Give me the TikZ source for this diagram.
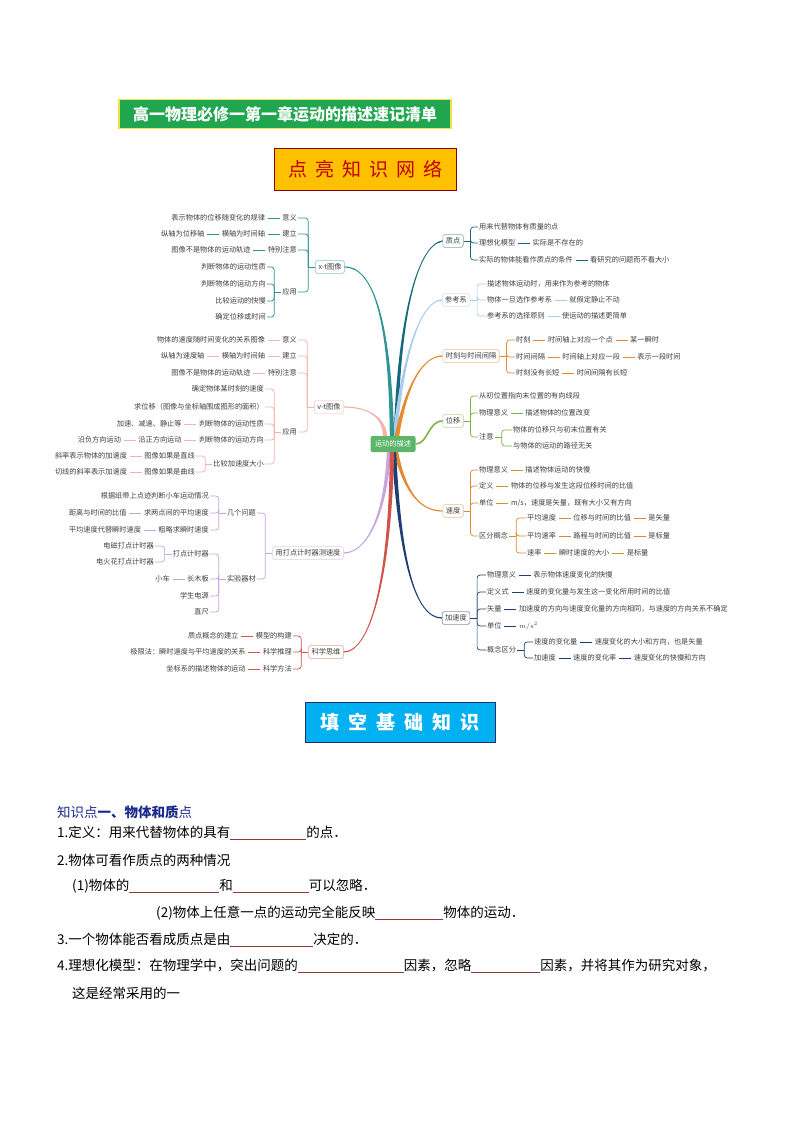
\documentclass[tikz,border=0pt]{standalone}
\usepackage{fontspec}
\setmainfont{Noto Sans CJK SC}
\usetikzlibrary{positioning,calc}
\definecolor{cXT}{HTML}{2E9494}
\definecolor{cVT}{HTML}{F2B2AE}
\definecolor{cDD}{HTML}{C7A4DA}
\definecolor{cKX}{HTML}{D0544A}
\definecolor{cZD}{HTML}{17687A}
\definecolor{cCK}{HTML}{A8CBEE}
\definecolor{cSK}{HTML}{E8892B}
\definecolor{cWY}{HTML}{7DB544}
\definecolor{cSD}{HTML}{DE8A33}
\definecolor{cJSD}{HTML}{1F3F74}
\definecolor{cCtr}{HTML}{5DB56B}
\definecolor{tgray}{HTML}{404040}
\definecolor{titleg}{HTML}{1FA64E}
\definecolor{titley}{HTML}{F0E04A}
\definecolor{orangebox}{HTML}{FFC000}
\definecolor{redtxt}{HTML}{C00000}
\definecolor{bluebox}{HTML}{00B0F0}
\definecolor{navyb}{HTML}{1F2F6F}
\definecolor{kdblue}{HTML}{1C2A8A}
\definecolor{blankc}{HTML}{8B3A3A}
\newcommand\brR[3]{\draw[#1,line width=0.7pt,rounded corners=3pt] ($(#2.east)+(7,0)$) |- (#3.west);\draw[#1,line width=0.7pt] (#2.east) -- ($(#2.east)+(7,0)$);}
\newcommand\brL[3]{\draw[#1,line width=0.7pt,rounded corners=3pt] ($(#2.west)+(-7,0)$) |- (#3.east);\draw[#1,line width=0.7pt] (#2.west) -- ($(#2.west)+(-7,0)$);}
\newcommand\mylnk[3]{\draw[#1,line width=0.7pt,shorten <=1.5pt,shorten >=1.5pt] (#2) -- (#3);}
\newcommand\taper[7]{\fill[#1] ($#2+(-2.2,0)$) .. controls ($#3+(-1.2,0)$) and ($#4+(0,#6)$) .. ($#5+(0,#6)$) -- ($#5+(0,#7)$) .. controls ($#4+(0,#7)$) and ($#3+(1.2,0)$) .. ($#2+(2.2,0)$) -- cycle;}
\newcommand\myblank[1]{\textcolor{blankc}{\rule[-2.5pt]{#1}{0.7pt}}}
\begin{document}
\begin{tikzpicture}[x=1pt,y=-1pt,
  mt/.style={font=\fontsize{7.2}{8}\selectfont, text=tgray, inner sep=1pt},
  mbox/.style={mt, draw=#1!55, fill=white, rounded corners=1.5pt, inner sep=3pt, line width=0.6pt},
  btxt/.style={font=\fontsize{13.5}{15}\selectfont, anchor=west, inner sep=0pt, text=black}]
\useasboundingbox (0,0) rectangle (794,1123);
\fill[white] (0,0) rectangle (794,1123);

% headers
\node[draw=titley, line width=1.6pt, fill=titleg, text=white, font=\fontsize{16}{18}\selectfont\bfseries, minimum width=332pt, minimum height=29pt, inner sep=0pt] (title) at (285,114) {高一物理必修一第一章运动的描述速记清单};
\node[draw=redtxt!70!black, line width=0.8pt, fill=orangebox, text=redtxt, font=\fontsize{19}{21}\selectfont, minimum width=182pt, minimum height=42pt, inner sep=0pt] (hd1) at (365.5,169.5) {点\hspace{8pt}亮\hspace{8pt}知\hspace{8pt}识\hspace{8pt}网\hspace{8pt}络};
\node[draw=navyb, line width=0.8pt, fill=bluebox, text=white, font=\fontsize{19}{21}\selectfont\bfseries, minimum width=190pt, minimum height=40pt, inner sep=0pt] (hd2) at (400,722) {填\hspace{9pt}空\hspace{9pt}基\hspace{9pt}础\hspace{9pt}知\hspace{9pt}识};

% centre
\node[fill=cCtr, text=white, rounded corners=2pt, font=\fontsize{7.2}{8}\selectfont, minimum width=45pt, minimum height=16pt, inner sep=1pt] (ctr) at (393,444) {运动的描述};

% ---------- right: 质点
\node[mbox=cZD] (zd) at (453,241) {质点};
\node[mt,anchor=west] (zd1) at (478,227) {用来代替物体有质量的点};
\node[mt,anchor=west] (zd2) at (478,243) {理想化模型};
\node[mt,right=15pt of zd2] (zd2a) {实际是不存在的};
\node[mt,anchor=west] (zd3) at (478,260) {实际的物体能看作质点的条件};
\node[mt,right=15pt of zd3] (zd3a) {看研究的问题而不看大小};
\brR{cZD}{zd}{zd1}\brR{cZD}{zd}{zd2}\brR{cZD}{zd}{zd3}
\mylnk{cZD}{zd2}{zd2a}\mylnk{cZD}{zd3}{zd3a}

% 参考系
\node[mbox=cCK] (ckx) at (456,300) {参考系};
\node[mt,anchor=west] (ck1) at (486,284) {描述物体运动时，用来作为参考的物体};
\node[mt,anchor=west] (ck2) at (486,300) {物体一旦选作参考系};
\node[mt,right=15pt of ck2] (ck2a) {就假定静止不动};
\node[mt,anchor=west] (ck3) at (486,316) {参考系的选择原则};
\node[mt,right=15pt of ck3] (ck3a) {使运动的描述更简单};
\brR{cCK}{ckx}{ck1}\brR{cCK}{ckx}{ck2}\brR{cCK}{ckx}{ck3}
\mylnk{cCK}{ck2}{ck2a}\mylnk{cCK}{ck3}{ck3a}

% 时刻与时间间隔
\node[mbox=cSK] (sk) at (471,356) {时刻与时间间隔};
\node[mt,anchor=west] (sk1) at (515,340) {时刻};
\node[mt,right=15pt of sk1] (sk1a) {时间轴上对应一个点};
\node[mt,right=15pt of sk1a] (sk1b) {某一瞬时};
\node[mt,anchor=west] (sk2) at (515,357) {时间间隔};
\node[mt,right=15pt of sk2] (sk2a) {时间轴上对应一段};
\node[mt,right=15pt of sk2a] (sk2b) {表示一段时间};
\node[mt,anchor=west] (sk3) at (515,373) {时刻没有长短};
\node[mt,right=15pt of sk3] (sk3a) {时间间隔有长短};
\brR{cSK}{sk}{sk1}\brR{cSK}{sk}{sk2}\brR{cSK}{sk}{sk3}
\mylnk{cSK}{sk1}{sk1a}\mylnk{cSK}{sk1a}{sk1b}\mylnk{cSK}{sk2}{sk2a}\mylnk{cSK}{sk2a}{sk2b}\mylnk{cSK}{sk3}{sk3a}

% 位移
\node[mbox=cWY] (wy) at (453,421) {位移};
\node[mt,anchor=west] (wy1) at (478,396) {从初位置指向末位置的有向线段};
\node[mt,anchor=west] (wy2) at (478,413) {物理意义};
\node[mt,right=15pt of wy2] (wy2a) {描述物体的位置改变};
\node[mt,anchor=west] (wy3) at (478,437) {注意};
\node[mt,anchor=west] (wy3a) at (512,430) {物体的位移只与初末位置有关};
\node[mt,anchor=west] (wy3b) at (512,446) {与物体的运动的路径无关};
\brR{cWY}{wy}{wy1}\brR{cWY}{wy}{wy2}\brR{cWY}{wy}{wy3}
\brR{cWY}{wy3}{wy3a}\brR{cWY}{wy3}{wy3b}
\mylnk{cWY}{wy2}{wy2a}

% 速度
\node[mbox=cSD] (sd) at (453,511) {速度};
\node[mt,anchor=west] (sd1) at (478,470) {物理意义};
\node[mt,right=15pt of sd1] (sd1a) {描述物体运动的快慢};
\node[mt,anchor=west] (sd2) at (478,486) {定义};
\node[mt,right=15pt of sd2] (sd2a) {物体的位移与发生这段位移时间的比值};
\node[mt,anchor=west] (sd3) at (478,503) {单位};
\node[mt,right=15pt of sd3] (sd3a) {m/s，速度是矢量，既有大小又有方向};
\node[mt,anchor=west] (sd4) at (478,536) {区分概念};
\node[mt,anchor=west] (sd4a) at (526,518) {平均速度};
\node[mt,right=15pt of sd4a] (sd4a1) {位移与时间的比值};
\node[mt,right=15pt of sd4a1] (sd4a2) {是矢量};
\node[mt,anchor=west] (sd4b) at (526,536) {平均速率};
\node[mt,right=15pt of sd4b] (sd4b1) {路程与时间的比值};
\node[mt,right=15pt of sd4b1] (sd4b2) {是标量};
\node[mt,anchor=west] (sd4c) at (526,553) {速率};
\node[mt,right=15pt of sd4c] (sd4c1) {瞬时速度的大小};
\node[mt,right=15pt of sd4c1] (sd4c2) {是标量};
\brR{cSD}{sd}{sd1}\brR{cSD}{sd}{sd2}\brR{cSD}{sd}{sd3}\brR{cSD}{sd}{sd4}
\brR{cSD}{sd4}{sd4a}\brR{cSD}{sd4}{sd4b}\brR{cSD}{sd4}{sd4c}
\mylnk{cSD}{sd1}{sd1a}\mylnk{cSD}{sd2}{sd2a}\mylnk{cSD}{sd3}{sd3a}
\mylnk{cSD}{sd4a}{sd4a1}\mylnk{cSD}{sd4a1}{sd4a2}
\mylnk{cSD}{sd4b}{sd4b1}\mylnk{cSD}{sd4b1}{sd4b2}
\mylnk{cSD}{sd4c}{sd4c1}\mylnk{cSD}{sd4c1}{sd4c2}

% 加速度
\node[mbox=cJSD] (jsd) at (456,618) {加速度};
\node[mt,anchor=west] (j1) at (486,575) {物理意义};
\node[mt,right=15pt of j1] (j1a) {表示物体速度变化的快慢};
\node[mt,anchor=west] (j2) at (486,592) {定义式};
\node[mt,right=15pt of j2] (j2a) {速度的变化量与发生这一变化所用时间的比值};
\node[mt,anchor=west] (j3) at (486,609) {矢量};
\node[mt,right=15pt of j3] (j3a) {加速度的方向与速度变化量的方向相同，与速度的方向关系不确定};
\node[mt,anchor=west] (j4) at (486,626) {单位};
\node[mt,right=15pt of j4] (j4a) {$m/s^2$};
\node[mt,anchor=west] (j5) at (486,650) {概念区分};
\node[mt,anchor=west] (j5a) at (533,642) {速度的变化量};
\node[mt,right=15pt of j5a] (j5a1) {速度变化的大小和方向，也是矢量};
\node[mt,anchor=west] (j5b) at (533,658) {加速度};
\node[mt,right=15pt of j5b] (j5b1) {速度的变化率};
\node[mt,right=15pt of j5b1] (j5b2) {速度变化的快慢和方向};
\brR{cJSD}{jsd}{j1}\brR{cJSD}{jsd}{j2}\brR{cJSD}{jsd}{j3}\brR{cJSD}{jsd}{j4}\brR{cJSD}{jsd}{j5}
\brR{cJSD}{j5}{j5a}\brR{cJSD}{j5}{j5b}
\mylnk{cJSD}{j1}{j1a}\mylnk{cJSD}{j2}{j2a}\mylnk{cJSD}{j3}{j3a}\mylnk{cJSD}{j4}{j4a}
\mylnk{cJSD}{j5a}{j5a1}\mylnk{cJSD}{j5b}{j5b1}\mylnk{cJSD}{j5b1}{j5b2}

% ---------- left: x-t
\node[mbox=cXT] (xt) at (330,267) {x-t图像};
\node[mt,anchor=east] (xt1) at (298,218) {意义};
\node[mt,left=15pt of xt1] (xt1a) {表示物体的位移随变化的规律};
\node[mt,anchor=east] (xt2) at (298,234) {建立};
\node[mt,left=15pt of xt2] (xt2a) {横轴为时间轴};
\node[mt,left=15pt of xt2a] (xt2b) {纵轴为位移轴};
\node[mt,anchor=east] (xt3) at (298,250) {特别注意};
\node[mt,left=15pt of xt3] (xt3a) {图像不是物体的运动轨迹};
\node[mt,anchor=east] (xt4) at (298,292) {应用};
\node[mt,anchor=east] (xt4a) at (267,267) {判断物体的运动性质};
\node[mt,anchor=east] (xt4b) at (267,284) {判断物体的运动方向};
\node[mt,anchor=east] (xt4c) at (267,301) {比较运动的快慢};
\node[mt,anchor=east] (xt4d) at (267,317) {确定位移或时间};
\brL{cXT}{xt}{xt1}\brL{cXT}{xt}{xt2}\brL{cXT}{xt}{xt3}\brL{cXT}{xt}{xt4}
\brL{cXT}{xt4}{xt4a}\brL{cXT}{xt4}{xt4b}\brL{cXT}{xt4}{xt4c}\brL{cXT}{xt4}{xt4d}
\mylnk{cXT}{xt1}{xt1a}\mylnk{cXT}{xt2}{xt2a}\mylnk{cXT}{xt2a}{xt2b}\mylnk{cXT}{xt3}{xt3a}

% v-t
\node[mbox=cVT] (vt) at (329,407) {v-t图像};
\node[mt,anchor=east] (vt1) at (298,340) {意义};
\node[mt,left=15pt of vt1] (vt1a) {物体的速度随时间变化的关系图像};
\node[mt,anchor=east] (vt2) at (298,356) {建立};
\node[mt,left=15pt of vt2] (vt2a) {横轴为时间轴};
\node[mt,left=15pt of vt2a] (vt2b) {纵轴为速度轴};
\node[mt,anchor=east] (vt3) at (298,373) {特别注意};
\node[mt,left=15pt of vt3] (vt3a) {图像不是物体的运动轨迹};
\node[mt,anchor=east] (vt4) at (298,432) {应用};
\node[mt,anchor=east] (vt4a) at (265,389) {确定物体某时刻的速度};
\node[mt,anchor=east] (vt4b) at (265,407) {求位移（图像与坐标轴围成图形的面积）};
\node[mt,anchor=east] (vt4c) at (265,424) {判断物体的运动性质};
\node[mt,left=15pt of vt4c] (vt4c1) {加速、减速、静止等};
\node[mt,anchor=east] (vt4d) at (265,440) {判断物体的运动方向};
\node[mt,left=15pt of vt4d] (vt4d1) {沿正方向运动};
\node[mt,left=15pt of vt4d1] (vt4d2) {沿负方向运动};
\node[mt,anchor=east] (vt4e) at (265,464) {比较加速度大小};
\node[mt,anchor=east] (vt4e1) at (196,456) {图像如果是直线};
\node[mt,left=15pt of vt4e1] (vt4e1a) {斜率表示物体的加速度};
\node[mt,anchor=east] (vt4e2) at (196,472) {图像如果是曲线};
\node[mt,left=15pt of vt4e2] (vt4e2a) {切线的斜率表示加速度};
\brL{cVT}{vt}{vt1}\brL{cVT}{vt}{vt2}\brL{cVT}{vt}{vt3}\brL{cVT}{vt}{vt4}
\brL{cVT}{vt4}{vt4a}\brL{cVT}{vt4}{vt4b}\brL{cVT}{vt4}{vt4c}\brL{cVT}{vt4}{vt4d}\brL{cVT}{vt4}{vt4e}
\brL{cVT}{vt4e}{vt4e1}\brL{cVT}{vt4e}{vt4e2}
\mylnk{cVT}{vt1}{vt1a}\mylnk{cVT}{vt2}{vt2a}\mylnk{cVT}{vt2a}{vt2b}\mylnk{cVT}{vt3}{vt3a}
\mylnk{cVT}{vt4c}{vt4c1}\mylnk{cVT}{vt4d}{vt4d1}\mylnk{cVT}{vt4d1}{vt4d2}
\mylnk{cVT}{vt4e1}{vt4e1a}\mylnk{cVT}{vt4e2}{vt4e2a}

% 用打点计时器测速度
\node[mbox=cDD] (dd) at (308,553) {用打点计时器测速度};
\node[mt,anchor=east] (dd1) at (257,513) {几个问题};
\node[mt,anchor=east] (dd1a) at (210,496) {根据纸带上点迹判断小车运动情况};
\node[mt,anchor=east] (dd1b) at (210,513) {求两点间的平均速度};
\node[mt,left=15pt of dd1b] (dd1b1) {距离与时间的比值};
\node[mt,anchor=east] (dd1c) at (210,530) {粗略求瞬时速度};
\node[mt,left=15pt of dd1c] (dd1c1) {平均速度代替瞬时速度};
\node[mt,anchor=east] (dd2) at (257,579) {实验器材};
\node[mt,anchor=east] (dd2a) at (210,554) {打点计时器};
\node[mt,anchor=east] (dd2a1) at (155,546) {电磁打点计时器};
\node[mt,anchor=east] (dd2a2) at (155,562) {电火花打点计时器};
\node[mt,anchor=east] (dd2b) at (210,579) {长木板};
\node[mt,left=15pt of dd2b] (dd2b1) {小车};
\node[mt,anchor=east] (dd2c) at (210,596) {学生电源};
\node[mt,anchor=east] (dd2d) at (210,612) {直尺};
\brL{cDD}{dd}{dd1}\brL{cDD}{dd}{dd2}
\brL{cDD}{dd1}{dd1a}\brL{cDD}{dd1}{dd1b}\brL{cDD}{dd1}{dd1c}
\brL{cDD}{dd2}{dd2a}\brL{cDD}{dd2}{dd2b}\brL{cDD}{dd2}{dd2c}\brL{cDD}{dd2}{dd2d}
\brL{cDD}{dd2a}{dd2a1}\brL{cDD}{dd2a}{dd2a2}
\mylnk{cDD}{dd1b}{dd1b1}\mylnk{cDD}{dd1c}{dd1c1}\mylnk{cDD}{dd2b}{dd2b1}

% 科学思维
\node[mbox=cKX] (kx) at (326,652) {科学思维};
\node[mt,anchor=east] (kx1) at (293,636) {模型的构建};
\node[mt,left=15pt of kx1] (kx1a) {质点概念的建立};
\node[mt,anchor=east] (kx2) at (293,652) {科学推理};
\node[mt,left=15pt of kx2] (kx2a) {极限法：瞬时速度与平均速度的关系};
\node[mt,anchor=east] (kx3) at (293,669) {科学方法};
\node[mt,left=15pt of kx3] (kx3a) {坐标系的描述物体的运动};
\brL{cKX}{kx}{kx1}\brL{cKX}{kx}{kx2}\brL{cKX}{kx}{kx3}
\mylnk{cKX}{kx1}{kx1a}\mylnk{cKX}{kx2}{kx2a}\mylnk{cKX}{kx3}{kx3a}

% ---------- main branches
\coordinate (n1) at ($(ctr.north)+(3,0)$);
\coordinate (n2) at ($(ctr.north)+(2,0)$);
\coordinate (n3) at ($(ctr.north)+(4,0)$);
\coordinate (n4) at ($(ctr.north)+(-1,0)$);
\coordinate (n5) at ($(ctr.north)+(-8,0)$);
\coordinate (s1) at ($(ctr.south)+(3,0)$);
\coordinate (s2) at ($(ctr.south)+(1,0)$);
\coordinate (s3) at ($(ctr.south)+(-4,0)$);
\coordinate (s4) at ($(ctr.south)+(-1,0)$);
\taper{cZD}{(n1)}{(398,330)}{(415,245)}{(zd.west)}{-0.6}{0.6}
\taper{cCK}{(n2)}{(402,360)}{(420,300)}{(ckx.west)}{-0.6}{0.6}
\taper{cSK}{(n3)}{(405,392)}{(420,356)}{(sk.west)}{-0.6}{0.6}
\draw[cWY,line width=1.6pt] (ctr.east) .. controls (428,444) and (428,421) .. (wy.west);
\taper{cSD}{(s1)}{(405,492)}{(420,511)}{(sd.west)}{0.6}{-0.6}
\taper{cJSD}{(s2)}{(400,560)}{(415,618)}{(jsd.west)}{0.6}{-0.6}
\taper{cXT}{(n4)}{(390,330)}{(376,267)}{(xt.east)}{0.6}{-0.6}
\taper{cVT}{(n5)}{(384,415)}{(365,407)}{(vt.east)}{0.6}{-0.6}
\taper{cDD}{(s3)}{(385,520)}{(365,553)}{(dd.east)}{-0.6}{0.6}
\taper{cKX}{(s4)}{(390,580)}{(370,652)}{(kx.east)}{-0.6}{0.6}

% ---------- bottom text
\node[btxt, text=kdblue] (k0) at (57,812) {知识点\textbf{一、物体和质}点};
\node[btxt] (k1) at (57,833) {1.定义：用来代替物体的具有\myblank{76pt}的点．};
\node[btxt] (k2) at (57,860) {2.物体可看作质点的两种情况};
\node[btxt] (k3) at (72,886) {(1)物体的\myblank{90pt}和\myblank{76pt}可以忽略．};
\node[btxt] (k4) at (156,913) {(2)物体上任意一点的运动完全能反映\myblank{68pt}物体的运动．};
\node[btxt] (k5) at (57,940) {3.一个物体能否看成质点是由\myblank{83pt}决定的．};
\node[btxt] (k6) at (57,966) {4.理想化模型：在物理学中，突出问题的\myblank{106pt}因素，忽略\myblank{69pt}因素，并将其作为研究对象，};
\node[btxt] (k7) at (72,993) {这是经常采用的一};
\end{tikzpicture}
\end{document}
